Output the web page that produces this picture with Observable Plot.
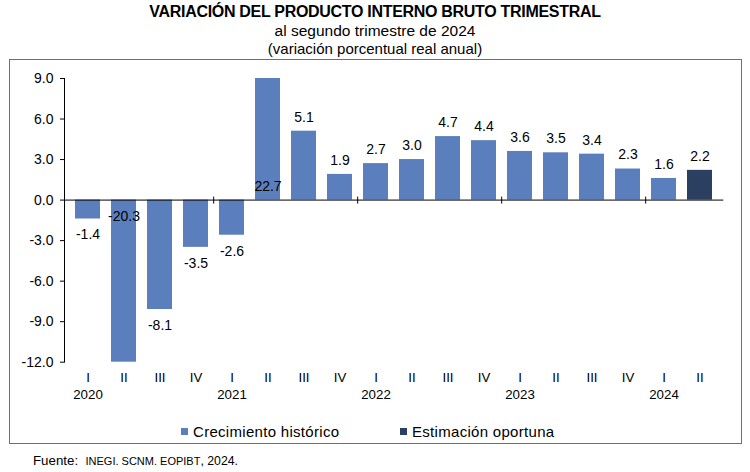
<!DOCTYPE html>
<html>
<head>
<meta charset="utf-8">
<script src="https://cdn.jsdelivr.net/npm/d3@7"></script>
<script src="https://cdn.jsdelivr.net/npm/@observablehq/plot@0.6"></script>
<style>
  body { margin: 0; background: #fff; font-family: "Liberation Sans", Arial, sans-serif; color: #000; }
  #wrap { position: relative; width: 750px; height: 472px; overflow: hidden; background: #fff; }
  .t { position: absolute; left: 0; width: 750px; text-align: center; white-space: nowrap; line-height: 1; }
  #title { top: 4px; font-size: 16px; font-weight: bold; letter-spacing: -0.3px; }
  #sub { top: 23.4px; font-size: 15.5px; }
  #sub2 { top: 40.6px; font-size: 15px; }
  #frame { position: absolute; left: 9px; top: 59px; width: 733px; height: 385px; box-sizing: border-box; border: 1px solid #6f6f6f; pointer-events: none; }
  #chart { position: absolute; left: 0; top: 59px; }
  .lg { position: absolute; top: 423.6px; font-size: 15px; line-height: 1; letter-spacing: 0.3px; white-space: nowrap; }
  .sw { position: absolute; top: 427.5px; width: 7px; height: 7px; }
  #src { position: absolute; left: 33px; top: 454px; font-size: 13.3px; line-height: 1; white-space: nowrap; }
  #src .sc { font-size: 11px; }
  #src .yr { font-size: 12.3px; }
</style>
</head>
<body>
<div id="wrap">
  <div class="t" id="title">VARIACIÓN DEL PRODUCTO INTERNO BRUTO TRIMESTRAL</div>
  <div class="t" id="sub">al segundo trimestre de 2024</div>
  <div class="t" id="sub2">(variación porcentual real anual)</div>
  <div id="chart"></div>
  <div id="frame"></div>
  <div id="legend"></div>
  <div id="src">Fuente:&nbsp; <span class="sc">INEGI. SCNM. EOPIBT</span><span class="yr">, 2024.</span></div>
</div>
<script>
// ---- Data ----
const periodYears    = ["2020","2020","2020","2020","2021","2021","2021","2021","2022","2022","2022","2022","2023","2023","2023","2023","2024","2024"];
const periodQuarters = ["I","II","III","IV","I","II","III","IV","I","II","III","IV","I","II","III","IV","I","II"];
const values         = [-1.4,-20.3,-8.1,-3.5,-2.6,22.7,5.1,1.9,2.7,3.0,4.7,4.4,3.6,3.5,3.4,2.3,1.6,2.2];
const seriesNames    = ["Crecimiento histórico","Estimación oportuna"];
const seriesOf       = ["Crecimiento histórico","Crecimiento histórico","Crecimiento histórico","Crecimiento histórico","Crecimiento histórico","Crecimiento histórico","Crecimiento histórico","Crecimiento histórico","Crecimiento histórico","Crecimiento histórico","Crecimiento histórico","Crecimiento histórico","Crecimiento histórico","Crecimiento histórico","Crecimiento histórico","Crecimiento histórico","Crecimiento histórico","Estimación oportuna"];
const seriesColors   = ["#5b7fbc","#2b3f60"];
const yTicks         = [-12,-9,-6,-3,0,3,6,9];

const Y_MIN = -12, Y_MAX = 9;
const data = values.map((v, i) => ({
  key: periodYears[i] + "-" + periodQuarters[i],
  q: periodQuarters[i], yr: periodYears[i], value: v, serie: seriesOf[i]
}));
const keys = data.map(d => d.key);
const qOf = new Map(data.map(d => [d.key, d.q]));
const yrOf = new Map(data.map(d => [d.key, d.yr]));
const firstQ = data.filter(d => d.q === "I").map(d => d.key);
const clampV = v => Math.max(Y_MIN, Math.min(Y_MAX, v));
const labelY = v => (v > Y_MAX || v < Y_MIN) ? 0 : v;

const W = 750, H = 346, ML = 64, MR = 26.7, MT = 19, MB = 43.3;
const PI = 0.3, PO = 0.15;
const step = (W - ML - MR) / (keys.length - PI + 2 * PO);

const chart = Plot.plot({
  width: W, height: H,
  marginLeft: ML, marginRight: MR, marginTop: MT, marginBottom: MB,
  style: { background: "transparent", fontFamily: "'Liberation Sans', Arial, sans-serif", fontSize: "13px", color: "#000", overflow: "visible" },
  x: { type: "band", domain: keys, paddingInner: PI, paddingOuter: PO },
  y: { domain: [Y_MIN, Y_MAX] },
  color: { domain: seriesNames, range: seriesColors },
  marks: [
    Plot.barY(data, { x: "key", y: d => clampV(d.value), fill: "serie" }),
    Plot.ruleY([0], { stroke: "#000", strokeWidth: 1 }),
    Plot.frame({ anchor: "left", stroke: "#000" }),
    Plot.ruleX(firstQ.filter(k => k !== keys[0]), { x: d => d, y1: 0, y2: 0, insetTop: -3, insetBottom: -4, dx: -step / 2, stroke: "#000" }),
    Plot.text(data.filter(d => d.value >= 0), { x: "key", y: d => labelY(d.value), text: d => d.value.toFixed(1), dy: -14, fill: "#000", fontSize: 14 }),
    Plot.text(data.filter(d => d.value < 0), { x: "key", y: d => labelY(d.value), text: d => d.value.toFixed(1), dy: 16, fill: "#000", fontSize: 14 }),
    Plot.axisY({ ticks: yTicks, tickFormat: d => d.toFixed(1), tickSize: 4, tickPadding: 7, label: null, stroke: "#000", fontSize: 14 }),
    Plot.axisX({ tickFormat: k => qOf.get(k), tickSize: 0, tickPadding: 10.4, label: null, fontSize: 13.3 }),
    Plot.axisX({ ticks: firstQ, tickFormat: k => yrOf.get(k), tickSize: 0, tickPadding: 27.5, label: null, fontSize: 13.3 })
  ]
});
document.getElementById("chart").appendChild(chart);

// Legend
const legend = document.getElementById("legend");
const lgX = [[181, 193], [400, 412]];
seriesNames.forEach((name, i) => {
  const sw = document.createElement("div");
  sw.className = "sw"; sw.style.left = lgX[i][0] + "px"; sw.style.background = seriesColors[i];
  const tx = document.createElement("div");
  tx.className = "lg"; tx.style.left = lgX[i][1] + "px"; tx.textContent = name;
  legend.appendChild(sw); legend.appendChild(tx);
});
</script>
</body>
</html>
